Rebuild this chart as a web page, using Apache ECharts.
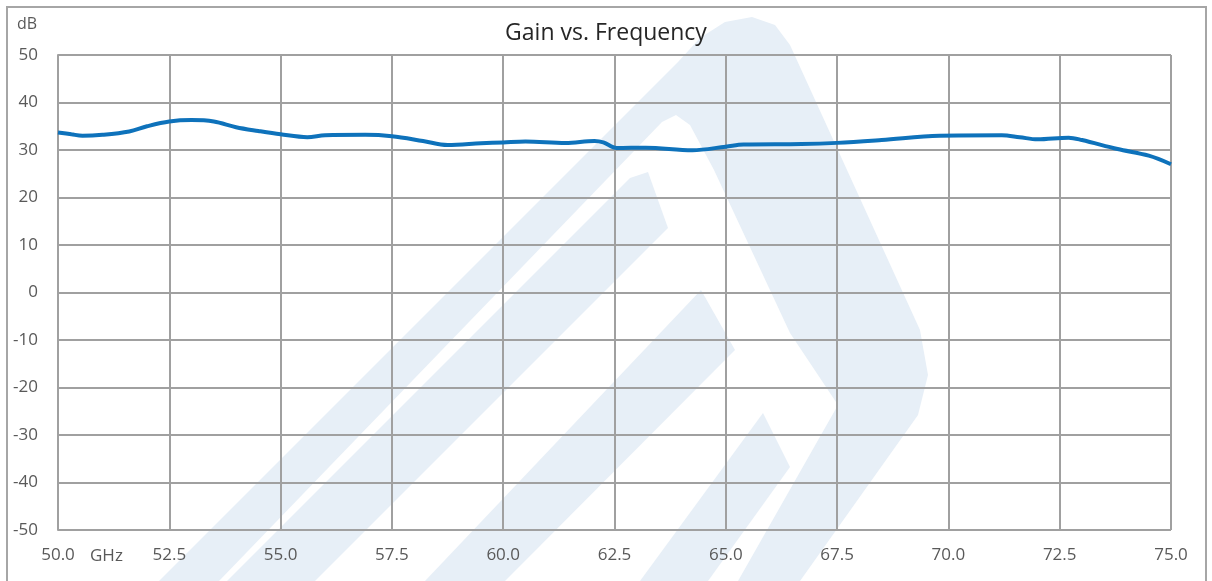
<!DOCTYPE html>
<html>
<head>
<meta charset="utf-8">
<script src="https://cdn.jsdelivr.net/npm/echarts@6/dist/echarts.min.js"></script>
<style>
html,body{margin:0;padding:0;background:#fff;}
#chart{width:1212px;height:581px;}
</style>
</head>
<body>
<div id="chart"></div>
<script>
// ---- data ----
var frequencyGHz = [50.0, 50.3, 50.55, 51.0, 51.6, 52.0, 52.5, 53.0, 53.5, 54.0, 54.5, 55.0, 55.6, 56.0, 56.9, 57.5, 58.2, 58.75, 59.5, 60.0, 60.5, 61.4, 62.05, 62.25, 62.55, 63.2, 64.25, 65.0, 65.4, 66.7, 67.5, 68.5, 69.8, 71.2, 71.6, 72.0, 72.7, 73.0, 73.8, 74.5, 75.0];
var gainDb =       [33.7, 33.3, 33.0, 33.2, 33.9, 35.0, 36.0, 36.3, 36.0, 34.8, 34.0, 33.3, 32.7, 33.1, 33.2, 32.9, 31.9, 31.05, 31.4, 31.6, 31.8, 31.5, 31.9, 31.6, 30.4, 30.5, 29.95, 30.7, 31.15, 31.25, 31.5, 32.1, 33.0, 33.1, 32.7, 32.25, 32.6, 32.1, 30.2, 28.8, 27.0];
var xTicks = [50.0, 52.5, 55.0, 57.5, 60.0, 62.5, 65.0, 67.5, 70.0, 72.5, 75.0];
var yTicks = [-50, -40, -30, -20, -10, 0, 10, 20, 30, 40, 50];
var titleText = 'Gain vs. Frequency';
var yUnit = 'dB';
var xUnit = 'GHz';

var points = frequencyGHz.map(function (f, i) { return [f, gainDb[i]]; });

var wm = '#E7EFF7';
var chart = echarts.init(document.getElementById('chart'), null, {renderer: 'canvas'});
chart.setOption({
  backgroundColor: '#ffffff',
  animation: false,
  title: {
    text: titleText,
    left: 'center',
    top: 17,
    textStyle: {fontFamily: 'Open Sans', fontSize: 23, fontWeight: 'normal', color: '#262626'}
  },
  graphic: [
    {type: 'polygon', z: -10, silent: true,
      shape: {points: [[159,581],[678,62],[700,38],[725,22],[752,17],[775,25],[790,45],[920,330],[928,375],[918,415],[800,581],[738,581],[838,405],[790,333],[714,170],[690,125],[676,115],[662,122],[219,581]]},
      style: {fill: wm}},
    {type: 'polygon', z: -10, silent: true,
      shape: {points: [[227,581],[630,178],[648,172],[668,228],[315,581]]},
      style: {fill: wm}},
    {type: 'polygon', z: -10, silent: true,
      shape: {points: [[701,290],[735,350],[505,581],[425,581]]},
      style: {fill: wm}},
    {type: 'polygon', z: -10, silent: true,
      shape: {points: [[763,413],[790,467],[708,581],[640,581]]},
      style: {fill: wm}},
    {type: 'rect', z: 100, silent: true,
      shape: {x: 7, y: 7, width: 1199, height: 590},
      style: {fill: 'none', stroke: '#A6A6A6', lineWidth: 2}},
    {type: 'text', z: 100, left: 17, top: 16,
      style: {text: yUnit, fontFamily: 'Open Sans', fontSize: 16, fill: '#595959'}},
    {type: 'text', z: 100, left: 90, top: 548,
      style: {text: xUnit, fontFamily: 'Open Sans', fontSize: 17, fill: '#595959'}}
  ],
  grid: {left: 58, right: 41, top: 55, bottom: 51, containLabel: false},
  xAxis: {
    type: 'value',
    min: xTicks[0], max: xTicks[xTicks.length - 1], interval: 2.5,
    axisLine: {show: true, lineStyle: {color: '#A0A0A0', width: 2}},
    axisTick: {show: false},
    axisLabel: {
      margin: 17, color: '#595959', fontFamily: 'Open Sans', fontSize: 17,
      formatter: function (v) { return v.toFixed(1); }
    },
    splitLine: {show: true, lineStyle: {color: '#A0A0A0', width: 2}}
  },
  yAxis: {
    type: 'value',
    min: yTicks[0], max: yTicks[yTicks.length - 1], interval: 10,
    axisLine: {show: true, lineStyle: {color: '#A0A0A0', width: 2}},
    axisTick: {show: false},
    axisLabel: {margin: 20, color: '#595959', fontFamily: 'Open Sans', fontSize: 17},
    splitLine: {show: true, lineStyle: {color: '#A0A0A0', width: 2}}
  },
  series: [{
    type: 'line',
    data: points,
    smooth: 0.35,
    showSymbol: false,
    symbol: 'none',
    lineStyle: {color: '#0E72BB', width: 4},
    z: 5
  }]
});
</script>
</body>
</html>
